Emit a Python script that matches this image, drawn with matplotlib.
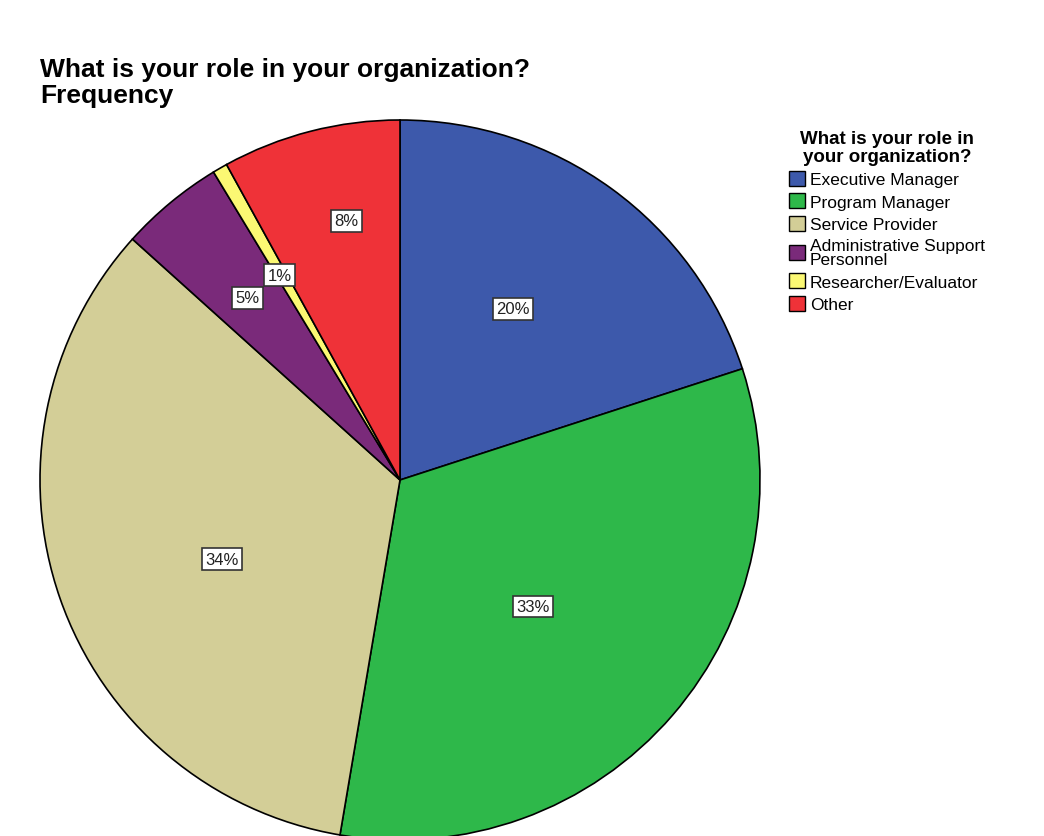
import numpy as np
import matplotlib.pyplot as plt
from matplotlib.patches import Patch

plt.rcParams['font.family'] = ['Liberation Sans', 'DejaVu Sans']

# survey counts per role
roles = ["Executive Manager", "Program Manager", "Service Provider",
         "Administrative Support\nPersonnel", "Researcher/Evaluator", "Other"]
counts = [30, 49, 51, 7, 1, 12]
colors = ["#3d59ab", "#2eb84a", "#d3ce97", "#7a2a7a", "#fbf873", "#ef3238"]
# where each percentage box sits: fraction of radius, angle nudge (deg, clockwise)
label_r = [0.57, 0.51, 0.54, 0.66, 0.66, 0.735]
label_nudge = [-2.5, 2.7, -4.8, -0.4, -0.4, 2.8]

fig = plt.figure(figsize=(10.44, 8.37), dpi=100)
ax = fig.add_axes([0, 0, 1, 1])

cx, cy, R = 400, 837 - 481, 360
wedges, _ = ax.pie(counts, colors=colors, startangle=90, counterclock=False,
                   center=(cx, cy), radius=R, frame=True,
                   wedgeprops=dict(edgecolor='black', linewidth=1.2))
ax.set_xlim(0, 1044)
ax.set_ylim(0, 837)
ax.set_aspect('equal')
ax.axis('off')

total = sum(counts)
for w, c, r, nd in zip(wedges, counts, label_r, label_nudge):
    mid = np.deg2rad((w.theta1 + w.theta2) / 2 - nd)
    x = cx + r * R * np.cos(mid)
    y = cy + r * R * np.sin(mid)
    ax.text(x, y, f"{round(100 * c / total)}%", ha='center', va='center',
            fontsize=12, color='#222222',
            bbox=dict(boxstyle='square,pad=0.2', facecolor='white',
                      edgecolor='#333333', linewidth=1.2))

fig.text(40 / 1044, 1 - 58 / 837, "What is your role in your organization?\nFrequency",
         ha='left', va='top', fontsize=19, fontweight='bold', linespacing=1.1)

handles = [Patch(facecolor=col, edgecolor='black', linewidth=1) for col in colors]
leg = fig.legend(handles, roles, loc='upper left',
                 bbox_to_anchor=(789 / 1044, 1 - 131 / 837),
                 title="What is your role in\nyour organization?",
                 title_fontproperties=dict(weight='bold', size=13.5),
                 fontsize=12.5, frameon=False, labelspacing=0.35,
                 handlelength=0.95, handleheight=0.95, handletextpad=0.25,
                 borderaxespad=0, borderpad=0)
for t in leg.get_texts():
    t.set_linespacing(0.9)
leg.get_title().set_linespacing(1.05)
leg.get_title().set_multialignment('center')

fig.savefig("out.png", dpi=100, facecolor='white')
